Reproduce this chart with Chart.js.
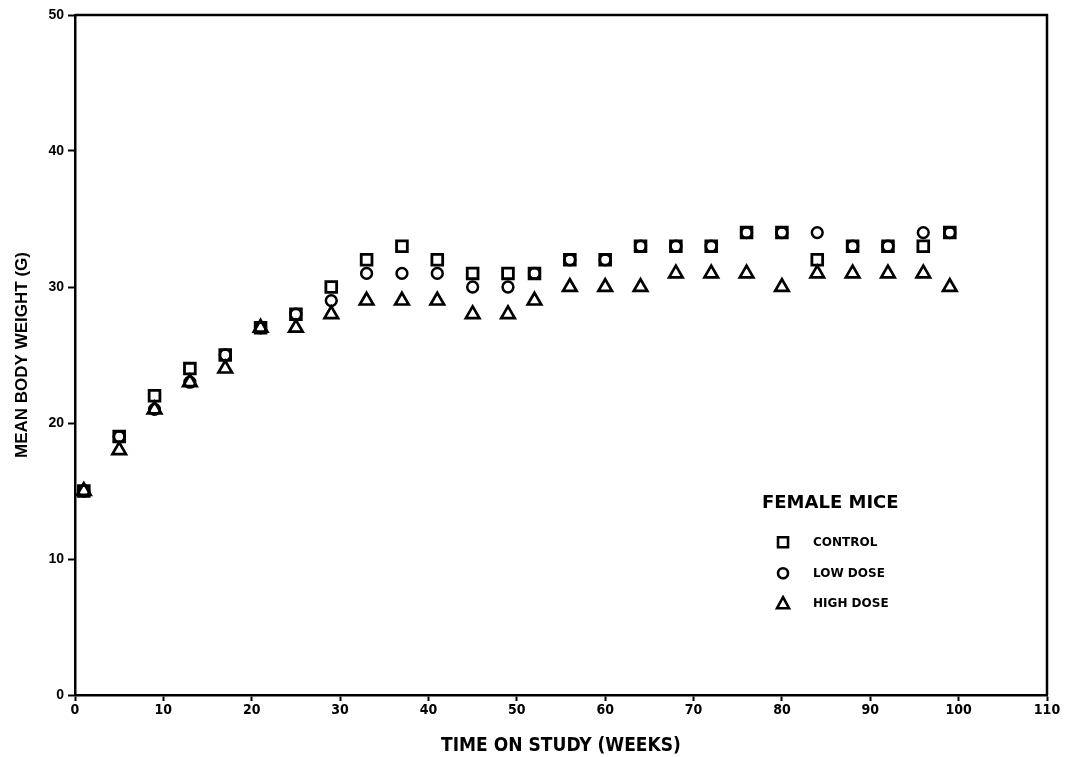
<!DOCTYPE html>
<html lang="en">
<head>
    <meta charset="UTF-8">
    <title>Mean Body Weight - Female Mice</title>
    <script src="https://cdn.jsdelivr.net/npm/chart.js@4.4.1/dist/chart.umd.min.js"></script>
    <style>
      html, body {margin: 0; padding: 0; background: #fff;}
      #chart_wrap {width: 1065px; height: 757px;}
    </style>
</head>
<body>
<div id="chart_wrap">
  <canvas id="weight_chart" width="1065" height="757"></canvas>
</div>
<script>

// weeks on study and mean body weight (g) per group
var weeks    = [1, 5, 9, 13, 17, 21, 25, 29, 33, 37, 41, 45, 49, 52, 56, 60, 64, 68, 72, 76, 80, 84, 88, 92, 96, 99];
var control  = [15, 19, 22, 24, 25, 27, 28, 30, 32, 33, 32, 31, 31, 31, 32, 32, 33, 33, 33, 34, 34, 32, 33, 33, 33, 34];
var lowDose  = [15, 19, 21, 23, 25, 27, 28, 29, 31, 31, 31, 30, 30, 31, 32, 32, 33, 33, 33, 34, 34, 34, 33, 33, 34, 34];
var highDose = [15, 18, 21, 23, 24, 27, 27, 28, 29, 29, 29, 28, 28, 29, 30, 30, 30, 31, 31, 31, 30, 31, 31, 31, 31, 30];

var xTicks = [0, 10, 20, 30, 40, 50, 60, 70, 80, 90, 100, 110];
var yTicks = [0, 10, 20, 30, 40, 50];

var legendTitle = 'FEMALE MICE';
var groupNames = ['CONTROL', 'LOW DOSE', 'HIGH DOSE'];

function toPoints(ys) {
  return weeks.map(function(w, i) {
    return {x: w, y: ys[i]};
  });
}

var boldFont = '"Liberation Sans", Arial, sans-serif';
var wideFont = '"DejaVu Sans", "Liberation Sans", sans-serif';
var condFont = '"DejaVu Sans Condensed", "Liberation Sans", sans-serif';

// closes the box on top and right side of the plot
var framePlugin = {
  id: 'frame',
  afterDraw: function(chart) {
    var a = chart.chartArea;
    var ctx = chart.ctx;
    ctx.save();
    ctx.strokeStyle = '#000';
    ctx.lineWidth = 2.5;
    ctx.beginPath();
    ctx.moveTo(a.left, a.top);
    ctx.lineTo(a.right, a.top);
    ctx.lineTo(a.right, a.bottom);
    ctx.stroke();
    ctx.restore();
  }
};

// key box drawn inside the plot, lower right
var keyPlugin = {
  id: 'key',
  afterDraw: function(chart) {
    var ctx = chart.ctx;
    var xs = chart.scales.x;
    var ys = chart.scales.y;
    var left = xs.getPixelForValue(77.75);
    var top = ys.getPixelForValue(14.1);
    ctx.save();
    ctx.fillStyle = '#000';
    ctx.textBaseline = 'middle';
    ctx.font = 'bold 18px ' + wideFont;
    ctx.fillText(legendTitle, left, top);
    ctx.font = 'bold 12px ' + wideFont;
    var rowY = [top + 39, top + 70, top + 100];
    chart.data.datasets.forEach(function(ds, i) {
      var cx = left + 21;
      var cy = rowY[i];
      ctx.strokeStyle = '#000';
      ctx.lineWidth = 2.6;
      ctx.beginPath();
      if (ds.pointStyle === 'rect') {
        ctx.rect(cx - 5, cy - 5, 10, 10);
      } else if (ds.pointStyle === 'circle') {
        ctx.arc(cx, cy, 5, 0, Math.PI * 2);
      } else {
        ctx.moveTo(cx, cy - 6);
        ctx.lineTo(cx + 6, cy + 5);
        ctx.lineTo(cx - 6, cy + 5);
        ctx.closePath();
      }
      ctx.stroke();
      ctx.fillText(ds.label, left + 51, cy + 1);
    });
    ctx.restore();
  }
};

var ctx = document.getElementById('weight_chart');

window.weightChart = new Chart(ctx, {
  type: 'scatter',
  data: {
    datasets: [
      {
        label: groupNames[0],
        data: toPoints(control),
        pointStyle: 'rect',
        pointRadius: 7.6,
        borderColor: '#000',
        backgroundColor: 'rgba(0,0,0,0)',
        borderWidth: 2.8
      },
      {
        label: groupNames[1],
        data: toPoints(lowDose),
        pointStyle: 'circle',
        pointRadius: 5.4,
        borderColor: '#000',
        backgroundColor: 'rgba(0,0,0,0)',
        borderWidth: 2.5
      },
      {
        label: groupNames[2],
        data: toPoints(highDose),
        pointStyle: 'triangle',
        pointRadius: 7.8,
        borderColor: '#000',
        backgroundColor: 'rgba(0,0,0,0)',
        borderWidth: 2.7
      }
    ]
  },
  options: {
    responsive: false,
    animation: false,
    devicePixelRatio: 1,
    layout: {
      padding: {top: 15, right: 18, bottom: 0, left: 0}
    },
    plugins: {
      legend: {display: false},
      tooltip: {enabled: false},
      title: {display: false}
    },
    elements: {
      point: {hoverRadius: 0}
    },
    scales: {
      x: {
        type: 'linear',
        min: 0,
        max: 110,
        afterBuildTicks: function(scale) {
          scale.ticks = xTicks.map(function(v) { return {value: v}; });
        },
        afterFit: function(scale) {
          scale.height = 62;
        },
        border: {display: true, color: '#000', width: 2.5},
        grid: {
          display: true,
          drawOnChartArea: false,
          drawTicks: true,
          tickLength: 6,
          tickWidth: 2,
          tickColor: '#000'
        },
        ticks: {
          color: '#000',
          padding: 1,
          maxRotation: 0,
          font: {family: condFont, size: 14, weight: 'bold'}
        },
        title: {
          display: true,
          text: 'TIME ON STUDY (WEEKS)',
          color: '#000',
          padding: {top: 0, bottom: 0},
          font: {family: condFont, size: 19, weight: 'bold'}
        }
      },
      y: {
        type: 'linear',
        min: 0,
        max: 50,
        afterBuildTicks: function(scale) {
          scale.ticks = yTicks.map(function(v) { return {value: v}; });
        },
        afterFit: function(scale) {
          scale.width = 75;
        },
        border: {display: true, color: '#000', width: 2.5},
        grid: {
          display: true,
          drawOnChartArea: false,
          drawTicks: true,
          tickLength: 7,
          tickWidth: 2,
          tickColor: '#000'
        },
        ticks: {
          color: '#000',
          padding: 4,
          font: {family: boldFont, size: 14, weight: 'bold'}
        },
        title: {
          display: true,
          text: 'MEAN BODY WEIGHT (G)',
          color: '#000',
          padding: {top: 12, bottom: 0},
          font: {family: boldFont, size: 17, weight: 'bold'}
        }
      }
    }
  },
  plugins: [framePlugin, keyPlugin]
});
</script>
</body>
</html>
